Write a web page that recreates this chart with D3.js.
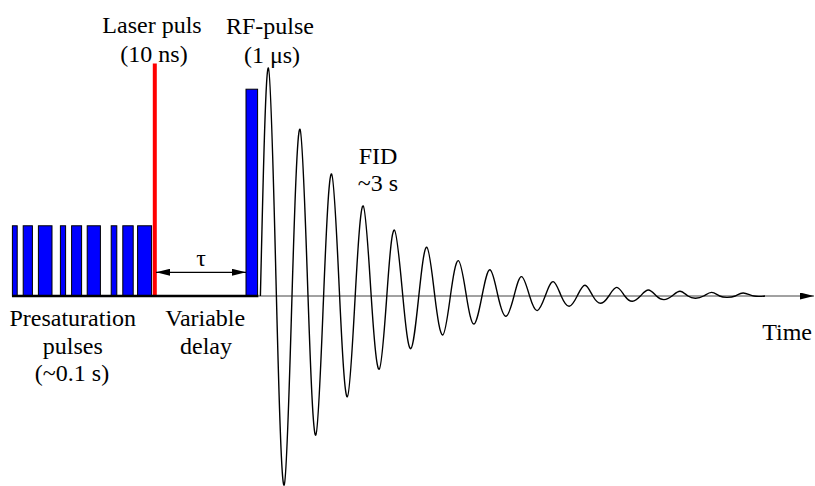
<!DOCTYPE html>
<html>
<head>
<meta charset="utf-8">
<script src="https://cdn.jsdelivr.net/npm/d3@7"></script>
<style>
  html, body { margin: 0; padding: 0; background: #fff; }
  svg { display: block; }
</style>
</head>
<body>
<svg id="chart" width="815" height="486"></svg>
<script>
// Time runs in arbitrary units along the horizontal axis; amplitude is
// normalised so the first FID maximum is 100.

// Presaturation pulse train: start and end of each pulse, and common height
const presatStart = [0.1, 2.8, 6.6, 12.1, 14.9, 18.8, 24.8, 27.7, 31.4];
const presatEnd   = [1.3, 5.1, 10.0, 13.4, 17.4, 22.1, 26.2, 30.3, 34.9];
const presatHeight = 30.8;

// Laser pulse (10 ns) drawn as a single line
const laserTime = 35.7;
const laserHeight = 102;

// RF pulse (1 µs)
const rfStart = 58.5;
const rfEnd = 61.4;
const rfHeight = 90.7;

// Variable delay tau between laser and RF pulse
const tauStart = 36.0;
const tauEnd = 58.5;
const tauLevel = 10.4;

// Thick baseline under the pulse block, and the time axis extent
const blockStart = 0;
const blockEnd = 61.6;
const axisEnd = 200.5;

// Free induction decay: zero crossings and extrema along the trace
const fidTime = [
  62.1, 64.1, 66.1, 68.05, 70.0, 72.0, 74.0, 75.95, 77.9, 79.9,
  81.9, 83.85, 85.8, 87.8, 89.8, 91.8, 93.7, 95.6, 97.7, 99.7,
  101.7, 103.7, 105.7, 107.7, 109.6, 111.6, 113.6, 115.5, 117.5, 119.5,
  121.5, 123.5, 125.5, 127.4, 129.4, 131.3, 133.3, 135.3, 137.3, 139.3,
  141.3, 143.25, 145.2, 147.2, 149.2, 151.2, 153.2, 155.1, 157.1, 159.1,
  161.1, 163.0, 165.0, 167.0, 169.0, 170.9, 172.9, 174.9, 176.9, 178.8,
  180.8, 182.8, 185.5, 188.25
];
const fidSignal = [
  0, 100, 0, -82.9, 0, 73.1, 0, -61.0, 0, 53.5,
  0, -44.2, 0, 39.5, 0, -32.1, 0, 28.9, 0, -23.1,
  0, 21.4, 0, -17.1, 0, 15.5, 0, -12.3, 0, 11.5,
  0, -8.9, 0, 8.5, 0, -6.4, 0, 6.3, 0, -4.5,
  0, 4.7, 0, -3.2, 0, 3.8, 0, -2.3, 0, 2.6,
  0, -1.6, 0, 2.1, 0, -1.0, 0, 1.6, 0, -0.6,
  0, 1.3, 0, 0
];

// Text labels
const labels = [
  { lines: ["Laser puls", "(10 ns)"], t: [35.0, 35.5], y: [33, 62], anchor: "middle" },
  { lines: ["RF-pulse", "(1 \u03bcs)"], t: [64.5, 65.0], y: [34, 63], anchor: "middle" },
  { lines: ["FID", "~3 s"], t: [91.5, 91.5], y: [164, 191], anchor: "middle" },
  { lines: ["Presaturation", "pulses", "(~0.1 s)"], t: [15.2, 15.2, 15.0], y: [326, 354, 381], anchor: "middle" },
  { lines: ["Variable", "delay"], t: [48.3, 48.5], y: [326, 354], anchor: "middle" },
  { lines: ["Time"], t: [200], y: [340], anchor: "end" }
];
const tauLabel = "\u03c4";

const FONT = "Liberation Serif";
const FONT_SIZE = 24;

const svg = d3.select("#chart");

const x = d3.scaleLinear().domain([0, 200]).range([12, 812]);
const y = d3.scaleLinear().domain([-100, 100]).range([524, 68]);

// Arrowhead markers
const defs = svg.append("defs");
function marker(id, orient) {
  defs.append("marker")
    .attr("id", id)
    .attr("viewBox", "0 0 14 7")
    .attr("refX", 14).attr("refY", 3.5)
    .attr("markerWidth", 14).attr("markerHeight", 7)
    .attr("markerUnits", "userSpaceOnUse")
    .attr("orient", orient)
    .append("path")
    .attr("d", "M0,0 L14,3.5 L0,7 Z")
    .attr("fill", "#000");
}
marker("arrowEnd", "auto");
marker("arrowStart", "auto-start-reverse");

// Time axis (thin line with arrow)
svg.append("line")
  .attr("x1", x(blockEnd)).attr("x2", x(axisEnd))
  .attr("y1", y(0)).attr("y2", y(0))
  .attr("stroke", "#444").attr("stroke-width", 1)
  .attr("marker-end", "url(#arrowEnd)");

// Presaturation pulses
svg.append("g").selectAll("rect")
  .data(presatStart.map((s, i) => ({ s, e: presatEnd[i] })))
  .join("rect")
  .attr("x", d => x(d.s))
  .attr("y", y(presatHeight))
  .attr("width", d => x(d.e) - x(d.s))
  .attr("height", y(0) - y(presatHeight))
  .attr("fill", "#0000ff")
  .attr("stroke", "#000")
  .attr("stroke-width", 1);

// RF pulse
svg.append("rect")
  .attr("x", x(rfStart))
  .attr("y", y(rfHeight))
  .attr("width", x(rfEnd) - x(rfStart))
  .attr("height", y(0) - y(rfHeight))
  .attr("fill", "#0000ff")
  .attr("stroke", "#000")
  .attr("stroke-width", 1);

// Laser pulse
svg.append("line")
  .attr("x1", x(laserTime)).attr("x2", x(laserTime))
  .attr("y1", y(laserHeight)).attr("y2", y(0))
  .attr("stroke", "#ff0000").attr("stroke-width", 4);

// Thick baseline under the pulse block
svg.append("line")
  .attr("x1", x(blockStart)).attr("x2", x(blockEnd))
  .attr("y1", y(0)).attr("y2", y(0))
  .attr("stroke", "#000").attr("stroke-width", 2.6);

// Tau double arrow
svg.append("line")
  .attr("x1", x(tauStart)).attr("x2", x(tauEnd))
  .attr("y1", y(tauLevel)).attr("y2", y(tauLevel))
  .attr("stroke", "#000").attr("stroke-width", 1.2)
  .attr("marker-start", "url(#arrowStart)")
  .attr("marker-end", "url(#arrowEnd)");
svg.append("text")
  .attr("x", x((tauStart + tauEnd) / 2))
  .attr("y", 266)
  .attr("text-anchor", "middle")
  .attr("font-family", FONT)
  .attr("font-size", FONT_SIZE)
  .attr("fill", "#000")
  .text(tauLabel);

// FID trace
const fidLine = d3.line()
  .x(d => x(d[0]))
  .y(d => y(d[1]))
  .curve(d3.curveNatural);
svg.append("path")
  .datum(fidTime.map((t, i) => [t, fidSignal[i]]))
  .attr("d", fidLine)
  .attr("fill", "none")
  .attr("stroke", "#000")
  .attr("stroke-width", 1.4);

// Labels
labels.forEach(l => {
  l.lines.forEach((s, i) => {
    svg.append("text")
      .attr("x", x(l.t[i]))
      .attr("y", l.y[i])
      .attr("text-anchor", l.anchor)
      .attr("font-family", FONT)
      .attr("font-size", FONT_SIZE)
      .attr("fill", "#000")
      .text(s);
  });
});
</script>
</body>
</html>
